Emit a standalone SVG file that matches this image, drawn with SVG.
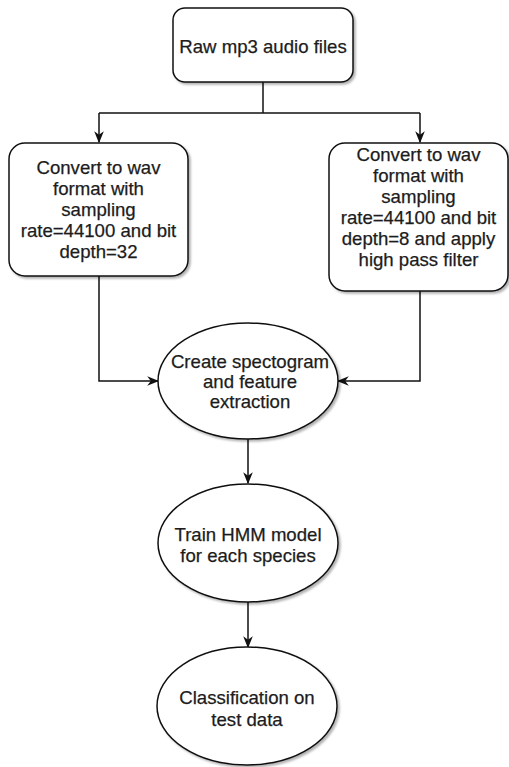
<svg xmlns="http://www.w3.org/2000/svg" width="509" height="767" viewBox="0 0 509 767">
<defs>
<marker id="arr" viewBox="0 0 10 10" refX="9" refY="5" markerWidth="12" markerHeight="12" markerUnits="userSpaceOnUse" orient="auto">
<path d="M0,1 L10,5 L0,9 L3,5 Z" fill="#111"/>
</marker>
<filter id="sh" x="-10%" y="-10%" width="130%" height="130%">
<feDropShadow dx="2" dy="2" stdDeviation="1.2" flood-color="#000" flood-opacity="0.3"/>
</filter>
</defs>
<style>
.n{fill:#fff;stroke:#111;stroke-width:1.5;filter:url(#sh)}
.t{font-family:"Liberation Sans",Arial,sans-serif;font-size:18.6px;fill:#1c1c1c;stroke:#1c1c1c;stroke-width:0.25;text-anchor:middle}
.c{fill:none;stroke:#111;stroke-width:1.5}
</style>
<rect width="509" height="767" fill="#fff"/>
<g id="connectors">
<path class="c" d="M263,82 V113"/>
<path class="c" d="M99,113 H420"/>
<path class="c" d="M99,113 V142" marker-end="url(#arr)"/>
<path class="c" d="M420,113 V142" marker-end="url(#arr)"/>
<path class="c" d="M99,276 V381 H158" marker-end="url(#arr)"/>
<path class="c" d="M420,291 V381 H338" marker-end="url(#arr)"/>
<path class="c" d="M248,438 V483" marker-end="url(#arr)"/>
<path class="c" d="M248,602 V647" marker-end="url(#arr)"/>
</g>
<g id="raw">
<rect class="n" x="173" y="8" width="180" height="74" rx="12"/>
<text class="t" x="263" y="53">Raw mp3 audio files</text>
</g>
<g id="convert32">
<rect class="n" x="9" y="143" width="179" height="133" rx="16"/>
<text class="t" x="98.5" y="174">Convert to wav</text>
<text class="t" x="98.5" y="195">format with</text>
<text class="t" x="98.5" y="216">sampling</text>
<text class="t" x="98.5" y="237">rate=44100 and bit</text>
<text class="t" x="98.5" y="258">depth=32</text>
</g>
<g id="convert8">
<rect class="n" x="329" y="143" width="179" height="148" rx="16"/>
<text class="t" x="418.5" y="161">Convert to wav</text>
<text class="t" x="418.5" y="182">format with</text>
<text class="t" x="418.5" y="203">sampling</text>
<text class="t" x="418.5" y="224">rate=44100 and bit</text>
<text class="t" x="418.5" y="245">depth=8 and apply</text>
<text class="t" x="418.5" y="266">high pass filter</text>
</g>
<g id="spectogram">
<ellipse class="n" cx="248" cy="381" rx="90" ry="58"/>
<text class="t" x="250" y="368">Create spectogram</text>
<text class="t" x="250" y="388">and feature</text>
<text class="t" x="250" y="408">extraction</text>
</g>
<g id="hmm">
<ellipse class="n" cx="248" cy="543" rx="90" ry="59"/>
<text class="t" x="248" y="541">Train HMM model</text>
<text class="t" x="248" y="562">for each species</text>
</g>
<g id="classify">
<ellipse class="n" cx="247" cy="706" rx="90" ry="59"/>
<text class="t" x="247" y="704">Classification on</text>
<text class="t" x="247" y="726">test data</text>
</g>
</svg>
